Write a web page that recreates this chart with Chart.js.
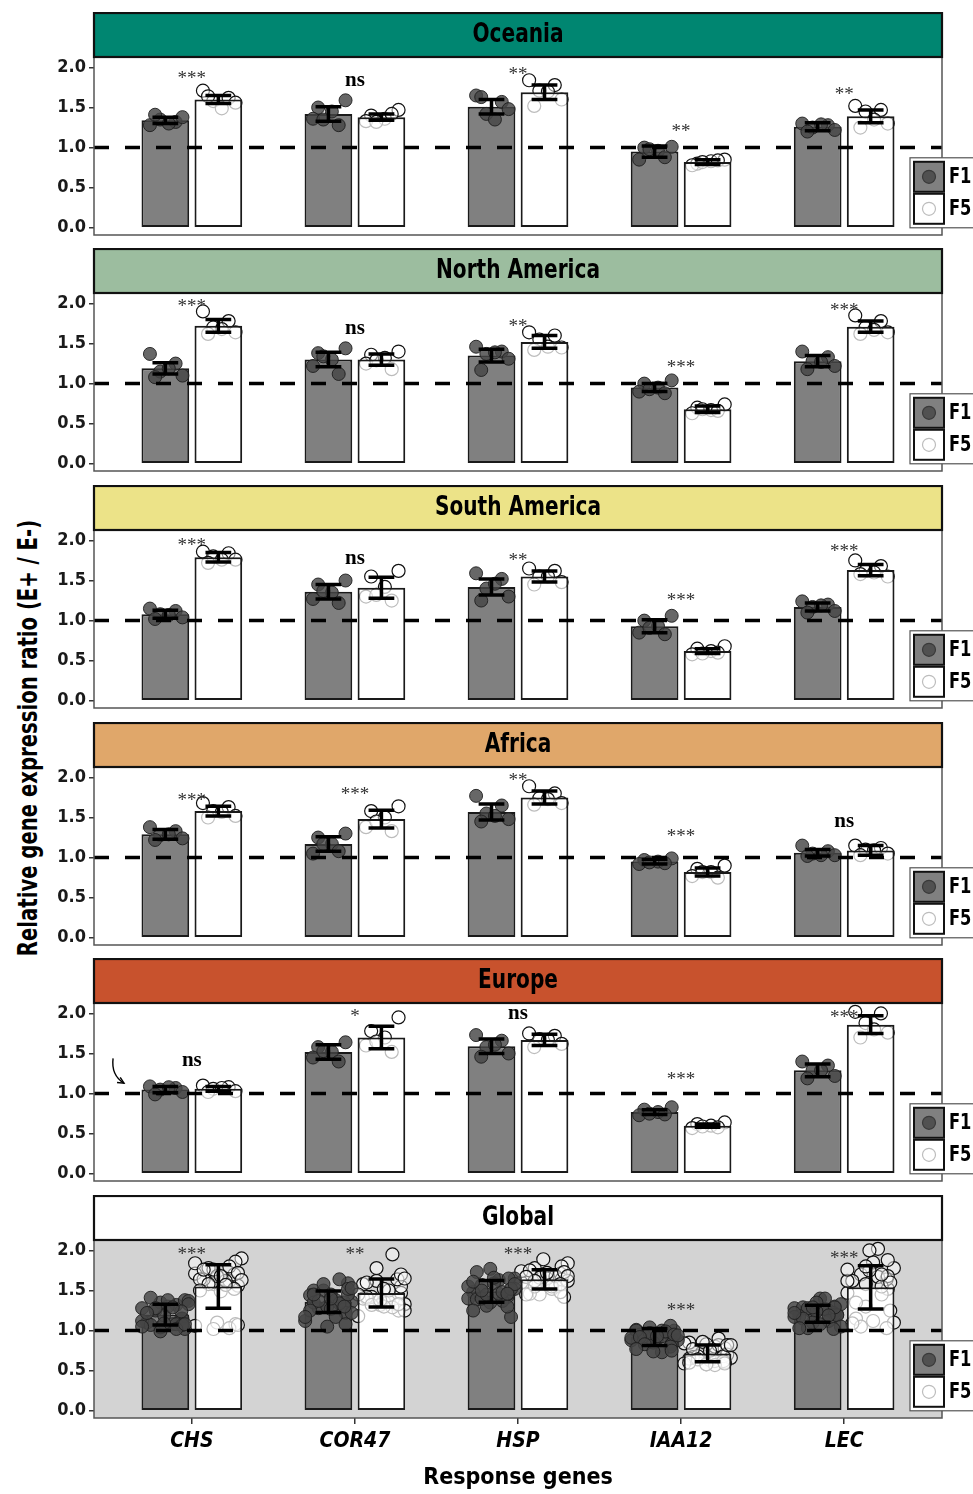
<!DOCTYPE html>
<html>
<head>
<meta charset="utf-8">
<script src="https://cdn.jsdelivr.net/npm/chart.js@4.4.1/dist/chart.umd.min.js"></script>
<style>
html, body { margin: 0; padding: 0; background: #fff; }
body { width: 973px; height: 1494px; position: relative; overflow: hidden; }
.panel { position: absolute; left: 0; }
#ylab {
  position: absolute; left: 28px; top: 738px;
  transform: translate(-50%, -50%) rotate(-90deg) scaleX(0.84);
  white-space: nowrap; color: #000;
  font: bold 26px 'Liberation Sans Narrow', 'DejaVu Sans Condensed', sans-serif;
}
</style>
</head>
<body>
<div id="ylab">Relative gene expression ratio (E+ / E-)</div>
<script>
// categories / ticks
const genes = ['CHS', 'COR47', 'HSP', 'IAA12', 'LEC'];
const generations = ['F1', 'F5'];
const yTicks = [0, 0.5, 1, 1.5, 2];
const refLine = 1;

// Oceania
const ocF1 = [1.34, 1.42, 1.51, 0.95, 1.26];
const ocF5 = [1.60, 1.38, 1.69, 0.82, 1.39];
const ocF1Err = [0.04, 0.09, 0.09, 0.07, 0.05];
const ocF5Err = [0.05, 0.04, 0.09, 0.03, 0.08];
const ocF1Pts = [[1.28, 1.32, 1.35, 1.38, 1.41, 1.30], [1.59, 1.50, 1.45, 1.36, 1.28, 1.35], [1.65, 1.57, 1.42, 1.48, 1.63, 1.35], [1.01, 1.00, 0.96, 0.85, 0.88, 0.98], [1.30, 1.28, 1.25, 1.22, 1.20, 1.29]];
const ocF5Pts = [[1.71, 1.62, 1.58, 1.56, 1.64, 1.49], [1.47, 1.40, 1.36, 1.33, 1.42, 1.32], [1.84, 1.78, 1.71, 1.60, 1.52, 1.70], [0.85, 0.80, 0.83, 0.78, 0.84, 0.82], [1.52, 1.47, 1.45, 1.30, 1.25, 1.35]];
const ocSig = ['***', 'ns', '**', '**', '**'];

// North America
const naF1 = [1.19, 1.30, 1.35, 0.95, 1.28];
const naF5 = [1.72, 1.30, 1.52, 0.68, 1.71];
const naF1Err = [0.07, 0.09, 0.08, 0.05, 0.07];
const naF5Err = [0.08, 0.07, 0.08, 0.04, 0.07];
const naF1Pts = [[1.37, 1.25, 1.15, 1.10, 1.08, 1.19], [1.44, 1.38, 1.30, 1.22, 1.12, 1.34], [1.46, 1.40, 1.37, 1.31, 1.17, 1.39], [1.04, 1.00, 0.95, 0.90, 0.88, 0.93], [1.40, 1.33, 1.28, 1.22, 1.18, 1.27]];
const naF5Pts = [[1.90, 1.78, 1.70, 1.64, 1.62, 1.68], [1.40, 1.36, 1.32, 1.25, 1.18, 1.29], [1.64, 1.60, 1.55, 1.45, 1.42, 1.46], [0.74, 0.70, 0.67, 0.63, 0.66, 0.68], [1.85, 1.78, 1.70, 1.64, 1.62, 1.67]];
const naSig = ['***', 'ns', '**', '***', '***'];

// South America
const saF1 = [1.08, 1.36, 1.42, 0.93, 1.17];
const saF5 = [1.79, 1.41, 1.55, 0.62, 1.63];
const saF1Err = [0.05, 0.09, 0.10, 0.08, 0.05];
const saF5Err = [0.06, 0.13, 0.07, 0.03, 0.07];
const saF1Pts = [[1.15, 1.12, 1.08, 1.04, 1.02, 1.07], [1.50, 1.45, 1.35, 1.27, 1.22, 1.37], [1.59, 1.52, 1.40, 1.30, 1.25, 1.46], [1.06, 1.00, 0.93, 0.85, 0.83, 0.91], [1.24, 1.20, 1.17, 1.12, 1.10, 1.19]];
const saF5Pts = [[1.86, 1.84, 1.80, 1.76, 1.72, 1.76], [1.62, 1.55, 1.42, 1.30, 1.25, 1.32], [1.65, 1.62, 1.55, 1.48, 1.45, 1.55], [0.68, 0.65, 0.62, 0.58, 0.60, 0.59], [1.75, 1.68, 1.62, 1.55, 1.58, 1.60]];
const saSig = ['***', 'ns', '**', '***', '***'];

// Africa
const afF1 = [1.29, 1.17, 1.57, 0.95, 1.06];
const afF5 = [1.58, 1.48, 1.75, 0.82, 1.09];
const afF1Err = [0.06, 0.09, 0.10, 0.03, 0.04];
const afF5Err = [0.06, 0.11, 0.08, 0.05, 0.06];
const afF1Pts = [[1.38, 1.33, 1.28, 1.24, 1.22, 1.29], [1.30, 1.25, 1.17, 1.05, 1.08, 1.17], [1.77, 1.65, 1.55, 1.48, 1.45, 1.52], [0.99, 0.97, 0.95, 0.92, 0.93, 0.94], [1.15, 1.08, 1.05, 1.03, 1.02, 1.03]];
const afF5Pts = [[1.68, 1.63, 1.58, 1.52, 1.50, 1.57], [1.64, 1.58, 1.50, 1.38, 1.33, 1.45], [1.89, 1.80, 1.74, 1.68, 1.66, 1.73], [0.90, 0.86, 0.82, 0.77, 0.75, 0.82], [1.15, 1.12, 1.10, 1.05, 1.03, 1.09]];
const afSig = ['***', '***', '**', '***', 'ns'];

// Europe
const euF1 = [1.05, 1.52, 1.59, 0.77, 1.29];
const euF5 = [1.06, 1.70, 1.67, 0.60, 1.86];
const euF1Err = [0.04, 0.09, 0.09, 0.03, 0.08];
const euF5Err = [0.03, 0.14, 0.07, 0.02, 0.11];
const euF1Pts = [[1.09, 1.07, 1.05, 1.02, 0.99, 1.08], [1.64, 1.58, 1.52, 1.45, 1.40, 1.53], [1.73, 1.66, 1.58, 1.50, 1.46, 1.61], [0.83, 0.80, 0.77, 0.73, 0.74, 0.75], [1.40, 1.35, 1.29, 1.22, 1.19, 1.29]];
const euF5Pts = [[1.10, 1.08, 1.06, 1.03, 1.02, 1.07], [1.95, 1.78, 1.70, 1.60, 1.52, 1.65], [1.75, 1.72, 1.68, 1.62, 1.58, 1.67], [0.64, 0.62, 0.60, 0.57, 0.58, 0.59], [2.02, 2.00, 1.88, 1.76, 1.70, 1.80]];
const euSig = ['ns', '*', 'ns', '***', '***'];

// Global (points = all regions pooled)
const glF1 = [1.20, 1.36, 1.49, 0.92, 1.21];
const glF5 = [1.55, 1.47, 1.64, 0.715, 1.54];
const glF1Err = [0.13, 0.135, 0.135, 0.105, 0.105];
const glF5Err = [0.27, 0.175, 0.12, 0.105, 0.27];
const glSig = ['***', '**', '***', '***', '***'];
const pool = (...regions) => genes.map((g, i) => regions.flatMap(r => r[i]));
const glF1Pts = pool(ocF1Pts, naF1Pts, saF1Pts, afF1Pts, euF1Pts);
const glF5Pts = pool(ocF5Pts, naF5Pts, saF5Pts, afF5Pts, euF5Pts);

// annotation anchors (value units on y): where each significance label sits
const ocSigY = [1.90, 1.83, 1.96, 1.24, 1.70];
const naSigY = [2.01, 1.68, 1.76, 1.24, 1.95];
const saSigY = [1.98, 1.76, 1.79, 1.29, 1.90];
const afSigY = [1.75, 1.83, 2.00, 1.30, 1.44];
const euSigY = [1.40, 2.01, 1.99, 1.22, 1.99];
const glSigY = [1.99, 1.99, 1.99, 1.29, 1.94];

// layout
const panelTops = [12, 248, 485, 722, 958, 1195];
const stripH = 45;
const xMin = 0.4, xMax = 5.6;
const yMin = -0.09, yMax = 2.13;
const catPct = 0.65, barPct = 0.9;
const dodge = catPct / 4;
const jitterNarrow = [-0.9, 0.6, -0.3, 1.0, -0.6, 0.2];
const jitterWide = [-0.95, 0.45, -0.2, 0.8, -0.6, 0.1, 0.95, -0.4, 0.65, -0.75, 0.3, -0.05, 0.7];
const sans = "'Liberation Sans Narrow', 'DejaVu Sans Condensed', sans-serif";
const serif = "'Liberation Serif', 'DejaVu Serif', serif";

const panels = [
  { title: 'Oceania', strip: '#008671', f1: ocF1, f5: ocF5, f1Err: ocF1Err, f5Err: ocF5Err, f1Pts: ocF1Pts, f5Pts: ocF5Pts, sig: ocSig, sigY: ocSigY },
  { title: 'North America', strip: '#9cbd9f', f1: naF1, f5: naF5, f1Err: naF1Err, f5Err: naF5Err, f1Pts: naF1Pts, f5Pts: naF5Pts, sig: naSig, sigY: naSigY },
  { title: 'South America', strip: '#ece388', f1: saF1, f5: saF5, f1Err: saF1Err, f5Err: saF5Err, f1Pts: saF1Pts, f5Pts: saF5Pts, sig: saSig, sigY: saSigY },
  { title: 'Africa', strip: '#e0a76a', f1: afF1, f5: afF5, f1Err: afF1Err, f5Err: afF5Err, f1Pts: afF1Pts, f5Pts: afF5Pts, sig: afSig, sigY: afSigY },
  { title: 'Europe', strip: '#c8522d', f1: euF1, f5: euF5, f1Err: euF1Err, f5Err: euF5Err, f1Pts: euF1Pts, f5Pts: euF5Pts, sig: euSig, sigY: euSigY,
    arrow: [[0.517, 1.44], [0.504, 1.23], [0.584, 1.13]] },
  { title: 'Global', strip: '#ffffff', bg: '#d3d3d3', f1: glF1, f5: glF5, f1Err: glF1Err, f5Err: glF5Err, f1Pts: glF1Pts, f5Pts: glF5Pts, sig: glSig, sigY: glSigY }
];

function facetPlugin(p) {
  return {
    id: 'facet',
    beforeDatasetsDraw(chart) {
      const { ctx, chartArea: a } = chart;
      ctx.save();
      if (p.bg) {
        ctx.fillStyle = p.bg;
        ctx.fillRect(a.left, a.top, a.right - a.left, a.bottom - a.top);
      }
      // opaque base under see-through bars, so points behind them read faded
      chart.data.datasets.forEach((ds, di) => {
        if (!ds.underFill) return;
        ctx.fillStyle = ds.underFill;
        chart.getDatasetMeta(di).data.forEach(el => {
          ctx.fillRect(el.x - el.width / 2, el.y, el.width, el.base - el.y);
        });
      });
      ctx.restore();
    },
    afterDatasetsDraw(chart) {
      const { ctx, chartArea: a, scales: { x, y } } = chart;
      ctx.save();
      // error bars
      chart.data.datasets.forEach((ds, di) => {
        if (!ds.err) return;
        chart.getDatasetMeta(di).data.forEach((el, i) => {
          const hi = y.getPixelForValue(ds.data[i].y + ds.err[i]);
          const lo = y.getPixelForValue(ds.data[i].y - ds.err[i]);
          const cw = el.width * 0.27;
          ctx.strokeStyle = '#000';
          ctx.lineWidth = 3.5;
          ctx.beginPath();
          ctx.moveTo(el.x, hi); ctx.lineTo(el.x, lo);
          ctx.moveTo(el.x - cw, hi); ctx.lineTo(el.x + cw, hi);
          ctx.moveTo(el.x - cw, lo); ctx.lineTo(el.x + cw, lo);
          ctx.stroke();
        });
      });
      // significance labels
      p.sig.forEach((s, i) => {
        const stars = s.indexOf('*') >= 0;
        const size = stars ? 19 : 21;
        ctx.font = (stars ? 'normal ' : 'bold ') + size + 'px ' + serif;
        ctx.fillStyle = stars ? '#333' : '#000';
        ctx.textAlign = 'center';
        ctx.textBaseline = 'alphabetic';
        ctx.fillText(s, x.getPixelForValue(i + 1), y.getPixelForValue(p.sigY[i]) + size * (stars ? 0.47 : 0.23));
      });
      // little arrow (Europe)
      if (p.arrow) {
        const pt = p.arrow.map(v => [x.getPixelForValue(v[0]), y.getPixelForValue(v[1])]);
        ctx.strokeStyle = '#000';
        ctx.lineWidth = 1.4;
        ctx.beginPath();
        ctx.moveTo(pt[0][0], pt[0][1]);
        ctx.quadraticCurveTo(pt[1][0], pt[1][1], pt[2][0], pt[2][1]);
        ctx.stroke();
        const ang = Math.atan2(pt[2][1] - pt[1][1], pt[2][0] - pt[1][0]);
        ctx.beginPath();
        ctx.moveTo(pt[2][0] - 7 * Math.cos(ang - 0.45), pt[2][1] - 7 * Math.sin(ang - 0.45));
        ctx.lineTo(pt[2][0], pt[2][1]);
        ctx.lineTo(pt[2][0] - 7 * Math.cos(ang + 0.45), pt[2][1] - 7 * Math.sin(ang + 0.45));
        ctx.stroke();
      }
      // panel border
      ctx.strokeStyle = '#555';
      ctx.lineWidth = 1.5;
      ctx.strokeRect(a.left, a.top, a.right - a.left, a.bottom - a.top);
      ctx.restore();
    },
    afterDraw(chart) {
      const { ctx, chartArea: a, scales: { y } } = chart;
      ctx.save();
      // strip
      ctx.fillStyle = p.strip;
      ctx.fillRect(a.left, a.top - stripH, a.right - a.left, stripH);
      ctx.strokeStyle = '#111';
      ctx.lineWidth = 2.2;
      ctx.strokeRect(a.left, a.top - stripH + 1, a.right - a.left, stripH - 1);
      ctx.save();
      ctx.translate((a.left + a.right) / 2, a.top - stripH / 2 + 1);
      ctx.scale(0.86, 1);
      ctx.fillStyle = '#000';
      ctx.font = 'bold 26px ' + sans;
      ctx.textAlign = 'center';
      ctx.textBaseline = 'middle';
      ctx.fillText(p.title, 0, 0);
      ctx.restore();
      // legend
      const y0 = y.getPixelForValue(0);
      const bx = a.right - 32, by = y0 - 70;
      ctx.fillStyle = '#fff';
      ctx.fillRect(bx, by, 80, 70);
      ctx.strokeStyle = '#555';
      ctx.lineWidth = 1.2;
      ctx.strokeRect(bx, by, 80, 70);
      const keyFill = ['#808080', '#ffffff'];
      const dotFill = ['rgba(75,75,75,0.9)', 'rgba(255,255,255,0.9)'];
      const dotEdge = ['#3a3a3a', '#bdbdbd'];
      generations.forEach((g, k) => {
        const ky = by + 4 + k * 32;
        ctx.fillStyle = keyFill[k];
        ctx.fillRect(bx + 4, ky, 30, 30);
        ctx.strokeStyle = '#111';
        ctx.lineWidth = 2;
        ctx.strokeRect(bx + 4, ky, 30, 30);
        ctx.beginPath();
        ctx.arc(bx + 19, ky + 15, 6.5, 0, Math.PI * 2);
        ctx.fillStyle = dotFill[k];
        ctx.fill();
        ctx.strokeStyle = dotEdge[k];
        ctx.lineWidth = 1.2;
        ctx.stroke();
        ctx.save();
        ctx.translate(bx + 39, ky + 16);
        ctx.scale(0.86, 1);
        ctx.fillStyle = '#000';
        ctx.font = 'bold 21px ' + sans;
        ctx.textAlign = 'left';
        ctx.textBaseline = 'middle';
        ctx.fillText(g, 0, 0);
        ctx.restore();
      });
      ctx.restore();
    }
  };
}

panels.forEach((p, idx) => {
  const last = idx === panels.length - 1;
  const h = last ? 1494 - panelTops[idx] : 231;
  const div = document.createElement('div');
  div.className = 'panel';
  div.style.top = panelTops[idx] + 'px';
  const cv = document.createElement('canvas');
  cv.width = 973;
  cv.height = h;
  cv.style.width = '973px';
  cv.style.height = h + 'px';
  div.appendChild(cv);
  document.body.appendChild(div);

  const jit = last ? jitterWide : jitterNarrow;
  const spread = last ? 0.15 : 0.105;
  const pts = (arr, side) => arr.flatMap((vals, g) =>
    vals.map((v, k) => ({ x: g + 1 + side * dodge + jit[(k + g * 3) % jit.length] * spread, y: v })));

  new Chart(cv, {
    type: 'bar',
    data: {
      datasets: [
        {
          type: 'line', label: 'ref', data: [{ x: xMin, y: refLine }, { x: xMax, y: refLine }],
          borderColor: '#000', borderWidth: 3.5, borderDash: [15, 16], pointRadius: 0, order: 1
        },
        {
          type: 'scatter', label: 'F1 points', data: pts(p.f1Pts, -1),
          backgroundColor: 'rgba(70,70,70,0.82)', borderColor: 'rgba(30,30,30,0.9)', borderWidth: 1,
          pointRadius: 6.5, order: 2
        },
        {
          label: generations[0], data: p.f1.map((v, i) => ({ x: i + 1, y: v })), err: p.f1Err,
          backgroundColor: '#808080', borderColor: '#1a1a1a', borderWidth: 2, borderSkipped: false,
          categoryPercentage: catPct, barPercentage: barPct, order: 3
        },
        {
          label: generations[1], data: p.f5.map((v, i) => ({ x: i + 1, y: v })), err: p.f5Err, underFill: '#ffffff',
          backgroundColor: 'rgba(255,255,255,0.72)', borderColor: '#1a1a1a', borderWidth: 2, borderSkipped: false,
          categoryPercentage: catPct, barPercentage: barPct, order: 3
        },
        {
          type: 'scatter', label: 'F5 points', data: pts(p.f5Pts, 1),
          backgroundColor: 'rgba(255,255,255,0.5)', borderColor: '#111', borderWidth: 1.2,
          pointRadius: 6.5, order: 4
        }
      ]
    },
    options: {
      responsive: false,
      animation: false,
      events: [],
      layout: { padding: { top: stripH, left: 0, right: 31, bottom: last ? 0 : 8 } },
      scales: {
        x: {
          type: 'linear', min: xMin, max: xMax, offset: false, display: last,
          afterBuildTicks: s => { s.ticks = genes.map((g, i) => ({ value: i + 1 })); },
          afterFit: s => { if (last) s.height = 76; s.paddingLeft = 0; s.paddingRight = 0; },
          grid: { drawOnChartArea: false, offset: false, tickLength: 6, color: '#333', lineWidth: 1.5 },
          border: { display: false },
          ticks: {
            autoSkip: false, maxRotation: 0, padding: 5, color: '#000',
            font: { family: sans, size: 21, weight: 'bold', style: 'italic' },
            callback: v => genes[Math.round(v) - 1]
          },
          title: {
            display: true, text: 'Response genes', color: '#000', padding: { top: 0, bottom: 2 },
            font: { family: sans, size: 23, weight: 'bold' }
          }
        },
        y: {
          min: yMin, max: yMax,
          afterBuildTicks: s => { s.ticks = yTicks.map(v => ({ value: v })); },
          afterFit: s => { s.width = 94; s.paddingTop = 0; s.paddingBottom = 0; },
          grid: { drawOnChartArea: false, tickLength: 5, color: '#333', lineWidth: 1.5 },
          border: { display: false },
          ticks: {
            padding: 3, color: '#1a1a1a',
            font: { family: sans, size: 18, weight: 'bold' },
            callback: v => v.toFixed(1)
          }
        }
      },
      plugins: { legend: { display: false }, tooltip: { enabled: false } }
    },
    plugins: [facetPlugin(p)]
  });
});
</script>
</body>
</html>
